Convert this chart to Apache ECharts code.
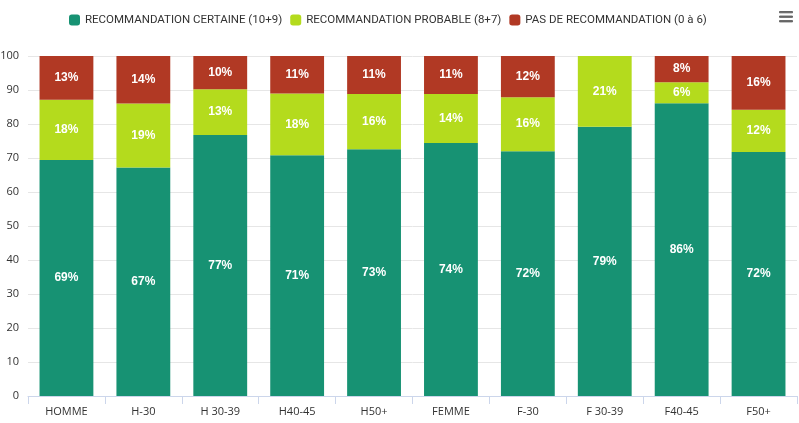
<!DOCTYPE html>
<html>
<head>
<meta charset="utf-8">
<script src="https://cdn.jsdelivr.net/npm/echarts@6/dist/echarts.min.js"></script>
<style>
  html, body { margin: 0; padding: 0; background: #fff; }
  #chart { width: 799px; height: 423px; }
</style>
</head>
<body>
<div id="chart"></div>
<script>
// categories and series (share in %)
const categories = ['HOMME', 'H-30', 'H 30-39', 'H40-45', 'H50+', 'FEMME', 'F-30', 'F 30-39', 'F40-45', 'F50+'];
const certaine = [69.4, 67.2, 76.8, 70.8, 72.6, 74.4, 72.0, 79.2, 86.1, 71.8];
const probable = [17.7, 18.8, 13.4, 18.2, 16.2, 14.4, 15.9, 20.8, 6.2, 12.4];
const aucune = [12.9, 14.0, 9.8, 11.0, 11.2, 11.2, 12.1, 0, 7.7, 15.8];
const seriesNames = ['RECOMMANDATION CERTAINE (10+9)', 'RECOMMANDATION PROBABLE (8+7)', 'PAS DE RECOMMANDATION (0 à 6)'];
const colors = ['#179273', '#b4db1d', '#b13924'];

const chart = echarts.init(document.getElementById('chart'));

const labelStyle = {
  show: true,
  position: 'inside',
  color: '#fff',
  fontWeight: 'bold',
  fontSize: 12,
  fontFamily: 'Liberation Sans',
  formatter: (p) => (p.value > 0 ? Math.round(p.value) + '%' : ''),
};

function makeSeries(name, data, color) {
  return {
    name: name,
    type: 'bar',
    stack: 'total',
    barWidth: '70%',
    data: data,
    itemStyle: { color: color },
    label: labelStyle,
  };
}

chart.setOption({
  animation: false,
  color: colors,
  legend: {
    top: 9,
    left: 64,
    itemWidth: 11,
    itemHeight: 11,
    itemGap: 8,
    icon: 'roundRect',
    textStyle: { color: '#333', fontSize: 11.5, fontFamily: 'Roboto' },
    data: seriesNames,
  },
  toolbox: {
    right: -9,
    top: -4,
    itemSize: 13,
    iconStyle: { borderColor: '#666', color: '#666' },
    feature: {
      myMenu: {
        show: true,
        title: '',
        icon: 'path://M0,0H20V2H0Z M0,7H20V9H0Z M0,14H20V16H0Z',
        onclick: function () {},
      },
    },
  },
  grid: { left: 28, right: 2, top: 56, bottom: 27, outerBoundsMode: 'none' },
  xAxis: {
    type: 'category',
    data: categories,
    axisLine: { lineStyle: { color: '#ccd6eb' } },
    axisTick: { show: true, alignWithLabel: false, length: 8, lineStyle: { color: '#ccd6eb' } },
    axisLabel: { color: '#333', fontSize: 11, fontFamily: 'Open Sans', margin: 10 },
  },
  yAxis: {
    type: 'value',
    min: 0,
    max: 100,
    interval: 10,
    axisLine: { show: false },
    axisTick: { show: false },
    axisLabel: { color: '#333', fontSize: 11, fontFamily: 'Open Sans', margin: 9 },
    splitLine: { lineStyle: { color: '#e6e6e6' } },
  },
  series: [
    makeSeries(seriesNames[0], certaine, colors[0]),
    makeSeries(seriesNames[1], probable, colors[1]),
    makeSeries(seriesNames[2], aucune, colors[2]),
  ],
});
</script>
</body>
</html>
